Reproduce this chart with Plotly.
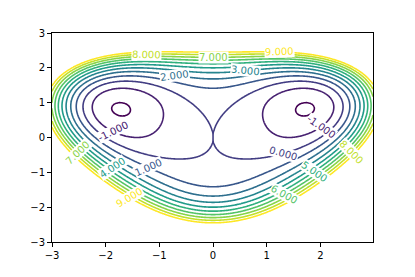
import math
import numpy as np
import plotly.graph_objects as go
from plotly.colors import sample_colorscale

# sampling of the plane and the contour levels shown
x_vals = np.arange(-3.0, 3.0, 0.02)
y_vals = np.linspace(-3.0, 3.0, 301)
levels = [-2, -1, 0, 1, 2, 3, 4, 5, 6, 7, 8, 9]
x_ticks = [-3, -2, -1, 0, 1, 2]
y_ticks = [-3, -2, -1, 0, 1, 2, 3]

# inline contour labels: level and approximate spot (data coords)
label_levels = [8, 7, 9, 2, 3, -1, 1, 0, -1, 4, 7, 9, 6, 5, 8]
label_x = [-1.25, 0.0, 1.25, -0.70, 0.60, -1.85, -1.19, 1.32, 2.01, -1.85, -2.50, -1.54, 1.35, 1.94, 2.56]
label_y = [2.60, 2.45, 2.65, 1.83, 1.93, 0.21, -0.84, -0.46, 0.30, -0.84, -0.41, -1.70, -1.65, -1.03, -0.41]


def potential(x, y):
    # double well: (x^2 + y^2)^2 / 4 - x^2 (1 + y)
    r2 = x ** 2 + y ** 2
    return r2 ** 2 / 4.0 - x ** 2 * (1.0 + y)


def gradient(x, y):
    r2 = x ** 2 + y ** 2
    return x * r2 - 2 * x * (1 + y), y * r2 - x ** 2


X, Y = np.meshgrid(x_vals, y_vals)
Z = potential(X, Y)


def level_color(v):
    return sample_colorscale("Viridis", (v - levels[0]) / (levels[-1] - levels[0]))[0]


fig = go.Figure(go.Contour(
    x=x_vals, y=y_vals, z=Z,
    colorscale="Viridis",
    zmin=levels[0], zmax=levels[-1], zauto=False,
    showscale=False,
    contours=dict(start=levels[0], end=levels[-1], size=1, coloring="lines", showlabels=False),
    line=dict(width=1.6),
    hoverinfo="skip",
))

# pixel scale of the axes (for label rotation)
px_x, px_y = 321 / 5.98, 209 / 6.0
for lev, lx, ly in zip(label_levels, label_x, label_y):
    # snap onto the contour line
    for _ in range(5):
        gx, gy = gradient(lx, ly)
        g2 = gx * gx + gy * gy
        d = (potential(lx, ly) - lev) / g2
        lx, ly = lx - d * gx, ly - d * gy
    gx, gy = gradient(lx, ly)
    ang = math.degrees(math.atan2(gx * px_y, -gy * px_x))
    if ang > 90:
        ang -= 180
    elif ang <= -90:
        ang += 180
    fig.add_annotation(
        x=lx, y=ly, text=f"{lev:.3f}", showarrow=False, textangle=ang,
        font=dict(family="DejaVu Sans", size=10, color=level_color(lev)),
        bgcolor="white", borderpad=0,
    )

axis_style = dict(
    showline=True, linecolor="black", linewidth=1, mirror=True,
    ticks="outside", ticklen=4, tickwidth=1, tickcolor="black",
    showgrid=False, zeroline=False, automargin=False,
    tickfont=dict(family="DejaVu Sans", size=10, color="black"),
)
fig.update_xaxes(range=[-3, 2.98], tickvals=x_ticks, **axis_style)
fig.update_yaxes(range=[-3, 3], tickvals=y_ticks, **axis_style)

# the page body adds an 8px offset, so margins are trimmed on the top/left
fig.update_layout(
    width=415, height=277,
    margin=dict(l=44, r=50, t=25, b=43),
    plot_bgcolor="white", paper_bgcolor="white",
    showlegend=False,
)
fig.write_html("out.html")
